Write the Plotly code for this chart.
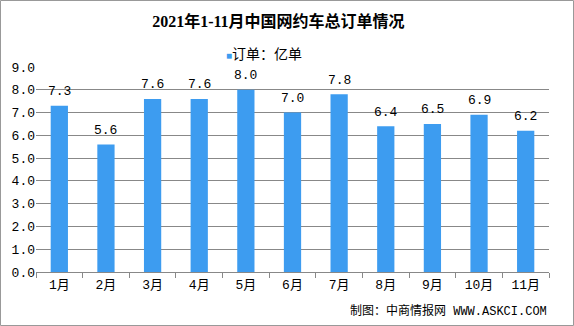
import plotly.graph_objects as go

months = ["1月", "2月", "3月", "4月", "5月", "6月", "7月", "8月", "9月", "10月", "11月"]
orders = [7.3, 5.6, 7.6, 7.6, 8.0, 7.0, 7.8, 6.4, 6.5, 6.9, 6.2]
y_ticks = [0, 1, 2, 3, 4, 5, 6, 7, 8, 9]
y_tick_labels = ["%.1f" % v for v in y_ticks]
title_text = "2021年1-11月中国网约车总订单情况"
series_name = "订单：亿单"
source_text = "制图：中商情报网 WWW.ASKCI.COM"
BAR_COLOR = "#3D9CF0"

FONT = "Liberation Mono, Noto Sans CJK SC, monospace"

fig = go.Figure()
fig.add_trace(go.Bar(
    x=months, y=orders, name=series_name,
    marker=dict(color=BAR_COLOR, line=dict(width=0)),
    showlegend=False,
))
for m, v in zip(months, orders):
    fig.add_annotation(x=m, y=v, text="%.1f" % v, showarrow=False,
                       yanchor="middle", yshift=14,
                       font=dict(family=FONT, size=13, color="#000"))

fig.update_layout(
    width=574, height=326,
    margin=dict(l=36, r=25, t=67, b=54),
    paper_bgcolor="white", plot_bgcolor="white",
    bargap=0.63,
    title=dict(text="<b>" + title_text + "</b>", x=0.485, xanchor="center", y=0.935, yanchor="middle",
               font=dict(family="Liberation Serif, Noto Sans CJK SC", size=16, color="#000")),
    font=dict(family=FONT, size=13, color="#000"),
    xaxis=dict(showgrid=False, showline=True, linecolor="#888", linewidth=1,
               ticks="outside", ticklen=5, tickcolor="#888", tickson="boundaries",
               tickfont=dict(family=FONT, size=13)),
    yaxis=dict(range=[0, 9], tickvals=y_ticks, ticktext=y_tick_labels,
               showgrid=True, gridcolor="#888", gridwidth=1, zeroline=False,
               showline=False, ticks="", tickfont=dict(family=FONT, size=13)),
)
# legend drawn as text: small square marker + series name
fig.add_annotation(text="<span style='color:%s;font-size:10px'>■</span>%s" % (BAR_COLOR, series_name),
                   xref="paper", yref="paper", x=(264 - 36) / 513, y=1 + 12 / 205,
                   xanchor="center", yanchor="middle", showarrow=False,
                   font=dict(family=FONT, size=14, color="#000"))
fig.add_shape(type="rect", xref="paper", yref="paper",
              x0=-35.5/513, x1=1+24.5/513, y0=-53.5/205, y1=1+66.5/205,
              line=dict(color="#999", width=1))
fig.add_annotation(text=source_text, xref="paper", yref="paper", x=1.0, y=-0.19,
                   xanchor="right", yanchor="middle", showarrow=False,
                   font=dict(family=FONT, size=12, color="#000"))

fig.write_html("out.html")
